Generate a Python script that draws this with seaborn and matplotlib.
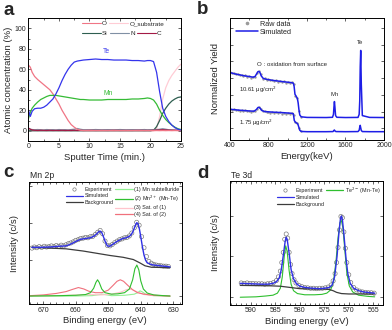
import numpy as np
import matplotlib
matplotlib.use("Agg")
import matplotlib.pyplot as plt
from matplotlib.lines import Line2D
from matplotlib.ticker import MultipleLocator
import seaborn as sns

# ---- panel a : depth profile ----
t_a = [0, 0.3, 0.6, 1, 1.5, 2, 2.5, 3, 3.5, 4, 4.5, 5, 5.5, 6, 6.5, 7, 7.5, 8, 8.5, 9,
       10, 11, 12, 13, 14, 15, 16, 17, 18, 19, 19.5, 20, 20.5, 21, 21.5, 22, 22.5, 23,
       23.5, 24, 24.5, 25]
te_a = [20, 14, 19, 21.5, 22, 22, 23, 25, 28, 31, 36, 42, 49, 55, 60, 64, 67, 68, 68.5, 69,
        69.5, 70, 69.5, 69.5, 69, 69, 69, 68.5, 68.5, 68, 68.5, 68.5, 67.5, 57, 38, 22, 14, 9,
        5.5, 3, 1.5, 0.8]
mn_a = [12, 18, 22, 25, 28, 30.5, 32, 33.5, 34.5, 34.5, 34.5, 34, 33.5, 33, 32.5, 32, 31.5, 31, 30.5, 30.5,
        30, 30, 30, 30.5, 30.5, 30.5, 30.5, 31, 31, 31.5, 32, 31.5, 30, 26, 20, 15, 11, 8,
        5.5, 3.5, 2, 1.2]
o_a = [64, 62, 57, 53, 50, 47.5, 45, 42.5, 40, 36, 31, 26, 20, 15, 10, 6, 3.5, 1.5, 0.5, 0.2,
       0.1, 0.2, 0.1, 0.2, 0.1, 0.2, 0.1, 0.2, 0.1, 0.2, 0.1, 0.2, 0.1, 0.2, 0.1, 0.2, 0.1, 0.2,
       0.1, 0.2, 0.1, 0.2]
osub_a = [0, 0, 0, 0, 0, 0, 0, 0, 0, 0, 0, 0, 0, 0, 0, 0, 0, 0, 0, 0,
          0, 0, 0, 0, 0, 0, 0, 0, 0, 0, 0, 0, 0, 2, 14, 31, 42, 49,
          54, 58, 62, 65]
si_a = [0, 0, 0, 0, 0, 0, 0, 0, 0, 0, 0, 0, 0, 0, 0, 0, 0, 0, 0, 0,
        0, 0, 0, 0, 0, 0, 0, 0, 0, 0, 0, 0, 0.5, 4, 10, 17, 22, 26,
        29, 31, 32.5, 33]
n_a = [2.5, 1.5, 1.2, 1, 1.2, 1, 0.8, 1.2, 0.9, 1.1, 0.8, 1.2, 0.9, 1.1, 0.8, 1.2, 1.5, 2.2, 1.5, 1,
       0.8, 1.2, 0.9, 1.1, 0.8, 1.2, 0.9, 1.1, 0.8, 1.2, 0.9, 1.1, 1, 1.2, 1.5, 2, 1.5, 1,
       0.9, 0.7, 0.6, 0.5]
c_a = [2.5, 1.5, 0.8, 0.5, 0.3, 0.5, 0.4, 0.3, 0.5, 0.3, 0.4, 0.3, 0.5, 0.3, 0.4, 0.3, 0.5, 0.3, 0.4, 0.3,
       0.5, 0.3, 0.4, 0.3, 0.5, 0.3, 0.4, 0.3, 0.5, 0.3, 0.4, 0.3, 0.5, 0.6, 0.8, 1, 0.8, 0.6,
       0.5, 0.5, 0.4, 0.5]

# ---- panel b : RBS spectra ----
e_up = [400, 450, 500, 550, 600, 640, 660, 675, 690, 700, 710, 725, 745, 780, 850, 950, 1040, 1058,
        1066, 1075, 1090, 1100, 1108, 1116, 1125, 1140, 1200, 1400, 1465, 1475, 1480, 1485, 1490,
        1497, 1510, 1600, 1730, 1742, 1748, 1753, 1758, 1764, 1775, 1850, 2000]
y_up = [5.53, 5.42, 5.34, 5.26, 5.2, 5.15, 5.2, 5.4, 5.6, 5.62, 5.55, 5.25, 5.05, 4.97, 4.88, 4.78, 4.7, 4.66,
        4.4, 3.75, 3.55, 3.4, 3.05, 2.5, 2.05, 1.9, 1.85, 1.84, 1.86, 2.1, 2.7, 3.15, 2.7,
        2.0, 1.86, 1.84, 1.85, 2.1, 3.2, 6.0, 7.34, 4.6, 2.0, 1.85, 1.84]
e_lo = [400, 450, 500, 550, 600, 650, 675, 690, 700, 712, 730, 760, 850, 950, 1040, 1058, 1068, 1080,
        1095, 1105, 1115, 1125, 1140, 1200, 1400, 1470, 1478, 1484, 1490, 1500, 1600, 1730, 1742,
        1748, 1753, 1758, 1764, 1775, 1850, 2000]
y_lo = [2.52, 2.48, 2.44, 2.41, 2.38, 2.36, 2.5, 2.66, 2.68, 2.62, 2.42, 2.33, 2.28, 2.24, 2.19, 2.15, 1.6, 1.45,
        1.38, 1.3, 1.05, 0.8, 0.7, 0.68, 0.68, 0.69, 0.76, 0.82, 0.75, 0.69, 0.68, 0.69, 0.8,
        1.05, 1.2, 1.0, 0.78, 0.69, 0.68, 0.68]
e_raw = [400, 420, 440, 460, 480, 500, 520, 540, 560, 580, 600, 620, 640, 660, 680, 700, 720, 740, 760,
         780, 800, 820, 840, 860, 880, 900, 920, 940, 960, 980, 1000, 1020, 1040, 1060, 1080, 1100,
         1120, 1140]
raw_up = [5.60, 5.45, 5.52, 5.38, 5.44, 5.30, 5.36, 5.22, 5.30, 5.18, 5.25, 5.12, 5.20, 5.14, 5.48, 5.66,
          5.38, 5.02, 5.08, 4.92, 5.02, 4.88, 4.95, 4.84, 4.92, 4.78, 4.86, 4.74, 4.82, 4.70, 4.77,
          4.66, 4.74, 4.55, 3.62, 3.45, 2.35, 1.92]
raw_lo = [2.58, 2.47, 2.53, 2.42, 2.49, 2.40, 2.46, 2.37, 2.43, 2.34, 2.41, 2.32, 2.39, 2.36, 2.58, 2.72,
          2.55, 2.34, 2.38, 2.27, 2.33, 2.24, 2.30, 2.22, 2.28, 2.19, 2.26, 2.17, 2.24, 2.15, 2.22,
          2.13, 2.20, 2.05, 1.48, 1.36, 0.98, 0.72]

# ---- panel c : Mn 2p XPS ----
e_c_sim = [673.5, 671, 668, 665, 663, 661.5, 660, 658.5, 657, 655.5, 654.3, 653.5, 653, 652.5, 652,
           651.5, 651, 650.3, 649.5, 648.5, 647.5, 646.5, 645.5, 644.5, 643.5, 643, 642.5, 642,
           641.5, 641.2, 640.8, 640.4, 640, 639.5, 639, 638.5, 638, 637, 636, 635, 634, 633, 632, 631]
c_sim = [1.33, 1.33, 1.34, 1.36, 1.37, 1.42, 1.49, 1.55, 1.57, 1.59, 1.64, 1.70, 1.75, 1.77, 1.73,
         1.62, 1.50, 1.37, 1.36, 1.42, 1.48, 1.53, 1.57, 1.59, 1.63, 1.67, 1.74, 1.85,
         1.96, 2.0, 1.96, 1.82, 1.62, 1.35, 1.12, 0.98, 0.91, 0.87, 0.85, 0.84, 0.83, 0.82, 0.81, 0.80]
e_c_exp = [673.5, 672.75, 672.0, 671.25, 670.5, 669.75, 669.0, 668.25, 667.5, 666.75, 666.0, 665.25,
           664.5, 663.75, 663.0, 662.25, 661.5, 660.75, 660.0, 659.25, 658.5, 657.75, 657.0, 656.25,
           655.5, 654.75, 654.0, 653.25, 652.5, 651.75, 651.0, 650.25, 649.5, 648.75, 648.0, 647.25,
           646.5, 645.75, 645.0, 644.25, 643.5, 642.75, 642.0, 641.25, 640.5, 639.75, 639.0, 638.25,
           637.5, 636.75, 636.0, 635.25, 634.5, 633.75, 633.0, 632.25, 631.5]
c_exp = [1.31, 1.34, 1.32, 1.35, 1.33, 1.36, 1.34, 1.35, 1.37, 1.35, 1.38, 1.36,
         1.39, 1.37, 1.40, 1.43, 1.45, 1.48, 1.52, 1.54, 1.57, 1.58, 1.60, 1.59,
         1.62, 1.63, 1.68, 1.74, 1.79, 1.70, 1.50, 1.38, 1.37, 1.41, 1.46, 1.50,
         1.54, 1.56, 1.59, 1.60, 1.64, 1.72, 1.86, 2.01, 1.93, 1.62, 1.32, 1.08,
         0.95, 0.90, 0.87, 0.85, 0.84, 0.83, 0.82, 0.82, 0.81]
e_c_bg = [673.5, 668, 663, 657.7, 653.6, 649.5, 645.4, 642.3, 640.3, 638.7, 636.7, 631]
c_bg = [1.33, 1.31, 1.29, 1.23, 1.17, 1.11, 1.06, 1.0, 0.91, 0.83, 0.79, 0.78]

e_c_p2 = [674, 665, 660, 657, 655.5, 654.5, 653.8, 653.3, 652.8, 652, 651, 649, 647, 645, 643.5,
          642.5, 641.8, 641.2, 640.6, 640, 639.2, 638, 636, 633, 631]
c_p2 = [0.01, 0.02, 0.03, 0.05, 0.1, 0.22, 0.38, 0.45, 0.38, 0.2, 0.1, 0.06, 0.07, 0.1, 0.2,
        0.45, 0.75, 0.85, 0.72, 0.42, 0.2, 0.09, 0.04, 0.02, 0.01]
e_c_p4 = [674, 670, 666, 663, 661, 659.2, 657.5, 656, 654, 652, 650, 648.5, 647.3, 646.3, 645.3,
          644, 642.5, 641, 639, 636, 631]
c_p4 = [0.02, 0.04, 0.08, 0.13, 0.19, 0.24, 0.2, 0.14, 0.1, 0.1, 0.17, 0.3, 0.41, 0.45, 0.41,
        0.3, 0.18, 0.1, 0.06, 0.03, 0.01]
e_c_p1 = [674, 660, 655, 652.5, 651.8, 651, 649, 645, 642, 641, 640.2, 639.5, 638.5, 636, 631]
c_p1 = [0.0, 0.01, 0.02, 0.05, 0.06, 0.05, 0.02, 0.03, 0.06, 0.1, 0.15, 0.12, 0.06, 0.02, 0.0]
e_c_p3 = [674, 665, 657, 655, 652, 649, 646, 644.5, 643.5, 642.5, 641, 639, 636, 631]
c_p3 = [0.01, 0.02, 0.05, 0.05, 0.04, 0.06, 0.12, 0.18, 0.2, 0.18, 0.12, 0.05, 0.02, 0.01]

# ---- panel d : Te 3d XPS ----
e_d_sim = [592.2, 590, 588, 586.5, 585.5, 584.8, 584.2, 583.8, 583.4, 583.0, 582.8, 582.6, 582.2,
           581.8, 581.3, 580.7, 580, 579, 577.5, 576, 575, 574, 573.4, 572.9, 572.4, 572.0, 571.7,
           571.5, 571.3, 571.0, 570.6, 570.2, 569.7, 569, 568, 567, 565.5, 564.7]
d_sim = [0.34, 0.33, 0.32, 0.32, 0.34, 0.38, 0.48, 0.68, 1.02, 1.38, 1.47, 1.42, 1.08,
         0.68, 0.45, 0.33, 0.27, 0.24, 0.22, 0.21, 0.22, 0.24, 0.3, 0.5, 1.0, 1.6, 1.93,
         1.99, 1.9, 1.55, 1.0, 0.58, 0.34, 0.22, 0.16, 0.13, 0.11, 0.1]
e_d_te = [592.2, 589, 587, 585.5, 584.6, 584.0, 583.6, 583.2, 582.9, 582.6, 582.2, 581.8, 581.3,
          580.5, 579, 577, 575.5, 574.5, 573.7, 573.1, 572.6, 572.2, 571.8, 571.5, 571.2, 570.8,
          570.4, 569.9, 569.2, 568, 566, 564.7]
d_te = [0.0, 0.01, 0.03, 0.05, 0.1, 0.22, 0.5, 1.0, 1.26, 1.12, 0.65, 0.32, 0.16,
        0.09, 0.06, 0.06, 0.07, 0.1, 0.18, 0.4, 0.9, 1.45, 1.83, 1.88, 1.7, 1.15,
        0.6, 0.28, 0.13, 0.05, 0.02, 0.01]
e_d_bg = [592.2, 586, 584, 582, 580, 577, 575, 574, 573.2, 572.5, 571.5, 570, 567, 564.7]
d_bg = [0.29, 0.28, 0.27, 0.24, 0.21, 0.2, 0.2, 0.19, 0.16, 0.12, 0.09, 0.08, 0.08, 0.08]
e_d_exp = [592.0, 591.4, 590.8, 590.2, 589.6, 589.0, 588.4, 587.8, 587.2, 586.6, 586.0, 585.4, 584.8,
           584.4, 584.0, 583.7, 583.4, 583.1, 582.8, 582.5, 582.2, 581.9, 581.6, 581.2, 580.8, 580.2,
           579.6, 579.0, 578.4, 577.8, 577.2, 576.6, 576.0, 575.4, 574.8, 574.2, 573.6, 573.2, 572.8,
           572.5, 572.2, 571.9, 571.6, 571.3, 571.0, 570.7, 570.4, 570.0, 569.6, 569.0, 568.4, 567.8,
           567.2, 566.6, 566.0, 565.4, 564.8]
d_exp = [0.35, 0.34, 0.35, 0.34, 0.34, 0.33, 0.33, 0.33, 0.32, 0.33, 0.34, 0.36, 0.41,
         0.5, 0.64, 0.85, 1.1, 1.42, 1.55, 1.45, 1.1, 0.8, 0.58, 0.43, 0.35, 0.29,
         0.26, 0.24, 0.23, 0.22, 0.22, 0.21, 0.22, 0.22, 0.23, 0.25, 0.3, 0.4, 0.58,
         0.85, 1.22, 1.65, 1.98, 1.95, 1.6, 1.2, 0.85, 0.55, 0.36, 0.24, 0.18, 0.15,
         0.13, 0.12, 0.11, 0.11, 0.1]

sns.set_theme(style="ticks")
plt.rcParams['font.family'] = ['Liberation Sans', 'DejaVu Sans']
plt.rcParams['axes.linewidth'] = 0.7

fig = plt.figure(figsize=(3.92, 3.30), dpi=100)
ax_a = fig.add_axes([0.0727, 0.5727, 0.389, 0.3727])
ax_b = fig.add_axes([0.5867, 0.5758, 0.3929, 0.3697])
ax_c = fig.add_axes([0.0740, 0.0773, 0.3895, 0.3697])
ax_d = fig.add_axes([0.5867, 0.0758, 0.3903, 0.3758])

TICK_FS = 5
LAB_FS = 6.8


def style_axes(ax):
    ax.tick_params(which='both', direction='in', top=True, right=True,
                   labelsize=TICK_FS, width=0.5, pad=1.5)
    ax.tick_params(which='major', length=2.2)
    ax.tick_params(which='minor', length=1.2)
    for s in ax.spines.values():
        s.set_linewidth(0.7)
        s.set_color('black')


def line(ax, x, y, color, lw=0.9):
    sns.lineplot(x=x, y=y, ax=ax, color=color, linewidth=lw, estimator=None,
                 sort=False, legend=False)


# ---- a ----
col_a = {'O': '#f07585', 'O_substrate': '#ffccd5', 'Si': '#2e5e50',
         'N': '#8090a4', 'C': '#a31a45', 'Te': '#3434ec', 'Mn': '#35bb35'}
line(ax_a, t_a, osub_a, col_a['O_substrate'])
line(ax_a, t_a, si_a, col_a['Si'])
line(ax_a, t_a, n_a, col_a['N'])
line(ax_a, t_a, c_a, col_a['C'])
line(ax_a, t_a, o_a, col_a['O'])
line(ax_a, t_a, mn_a, col_a['Mn'])
line(ax_a, t_a, te_a, col_a['Te'])
ax_a.set_xlim(0, 25)
ax_a.set_ylim(-10, 110)
ax_a.xaxis.set_major_locator(MultipleLocator(5))
ax_a.xaxis.set_minor_locator(MultipleLocator(2.5))
ax_a.set_yticks([0, 20, 40, 60, 80, 100])
ax_a.yaxis.set_minor_locator(MultipleLocator(10))
ax_a.set_xlabel('Sputter Time (min.)', fontsize=LAB_FS, labelpad=2)
ax_a.set_ylabel('Atomic concentration (%)', fontsize=LAB_FS, labelpad=1)
ax_a.text(12.8, 77, 'Te', color=col_a['Te'], fontsize=4.8, ha='center', va='center')
ax_a.text(13, 36, 'Mn', color=col_a['Mn'], fontsize=4.8, ha='center', va='center')
h1 = [Line2D([], [], color=col_a[k], lw=0.8) for k in ['O', 'O_substrate']]
leg1 = ax_a.legend(h1, ['O', 'O_substrate'], ncol=2, loc='upper left', bbox_to_anchor=(0.34, 0.99),
                   fontsize=4.6, frameon=False, handlelength=3.0, handletextpad=0.2,
                   columnspacing=0.3, borderpad=0.2, borderaxespad=0)
ax_a.add_artist(leg1)
h2 = [Line2D([], [], color=col_a[k], lw=0.8) for k in ['Si', 'N', 'C']]
ax_a.legend(h2, ['Si', 'N', 'C'], ncol=3, loc='upper left', bbox_to_anchor=(0.34, 0.905),
            fontsize=4.6, frameon=False, handlelength=3.0, handletextpad=0.2,
            columnspacing=0.3, borderpad=0.2, borderaxespad=0)
style_axes(ax_a)

# ---- b ----
sns.scatterplot(x=e_raw, y=raw_up, ax=ax_b, color='#9a9a9a', s=3, linewidth=0, legend=False)
sns.scatterplot(x=e_raw, y=raw_lo, ax=ax_b, color='#9a9a9a', s=3, linewidth=0, legend=False)
line(ax_b, e_up, y_up, '#1e1ee6', lw=1.1)
line(ax_b, e_lo, y_lo, '#1e1ee6', lw=1.1)
ax_b.set_xlim(400, 2000)
ax_b.set_ylim(0, 10)
ax_b.xaxis.set_major_locator(MultipleLocator(400))
ax_b.xaxis.set_minor_locator(MultipleLocator(200))
ax_b.set_yticks([0.96, 2.33, 3.7, 5.07, 6.44, 7.81, 9.18])
ax_b.set_yticklabels([])
ax_b.set_xlabel('Energy(keV)', fontsize=LAB_FS, labelpad=2)
ax_b.set_ylabel('Normalized Yield', fontsize=LAB_FS, labelpad=6)
ax_b.text(680, 6.2, 'O : oxidation from surface', fontsize=4.4, ha='left', va='center')
ax_b.text(490, 4.1, '10.61 μg/cm$^2$', fontsize=4.3, ha='left', va='center')
ax_b.text(490, 1.37, '1.75 μg/cm$^2$', fontsize=4.3, ha='left', va='center')
ax_b.text(1485, 3.75, 'Mn', fontsize=4.3, ha='center', va='center')
ax_b.text(1755, 7.95, 'Te', fontsize=4.3, ha='center', va='center')
hb = [Line2D([], [], color='#9a9a9a', marker='o', ms=1.6, lw=0),
      Line2D([], [], color='#1e1ee6', lw=1.1)]
ax_b.legend(hb, ['Raw data', 'Simulated'], loc='upper left', bbox_to_anchor=(0.03, 0.99),
            fontsize=5.2, frameon=False, handlelength=3.0, handletextpad=0.3,
            labelspacing=0.15, borderpad=0.2, borderaxespad=0)
style_axes(ax_b)

# ---- c ----
cc = {'sim': '#3030e6', 'bg': '#3c3c3c', 'p1': '#94f094', 'p2': '#2fbf2f',
      'p3': '#ffc4cc', 'p4': '#f0707c', 'exp': '#707070'}
line(ax_c, e_c_p1, c_p1, cc['p1'], lw=0.8)
line(ax_c, e_c_p3, c_p3, cc['p3'], lw=0.8)
line(ax_c, e_c_p4, c_p4, cc['p4'], lw=0.8)
line(ax_c, e_c_p2, c_p2, cc['p2'], lw=0.8)
line(ax_c, e_c_bg, c_bg, cc['bg'], lw=0.9)
sns.scatterplot(x=e_c_exp, y=c_exp, ax=ax_c, marker='o', s=9, facecolors='none',
                edgecolor=cc['exp'], linewidth=0.45, legend=False)
line(ax_c, e_c_sim, c_sim, cc['sim'], lw=1.0)
ax_c.set_xlim(674.4, 627.4)
ax_c.set_ylim(-0.22, 3.09)
ax_c.xaxis.set_major_locator(MultipleLocator(10))
ax_c.xaxis.set_minor_locator(MultipleLocator(2))
ax_c.set_yticks([0, 1, 2, 3])
ax_c.set_yticklabels([])
ax_c.set_xlabel('Binding energy (eV)', fontsize=LAB_FS, labelpad=2)
ax_c.set_ylabel('Intensity (c/s)', fontsize=LAB_FS, labelpad=6)
hc = [Line2D([], [], color=cc['exp'], marker='o', mfc='none', ms=2.4, mew=0.45, lw=0),
      Line2D([], [], color=cc['sim'], lw=0.9),
      Line2D([], [], color=cc['bg'], lw=0.9),
      Line2D([], [], lw=0, alpha=0),
      Line2D([], [], color=cc['p1'], lw=0.9),
      Line2D([], [], color=cc['p2'], lw=0.9),
      Line2D([], [], color=cc['p3'], lw=0.9),
      Line2D([], [], color=cc['p4'], lw=0.9)]
lc = ['Experiment', 'Simulated', 'Background', '',
      '(1) Mn subtelluride', '(2) Mn$^{2+}$ (Mn-Te)', '(3) Sat. of (1)', '(4) Sat. of (2)']
ax_c.legend(hc, lc, ncol=2, loc='upper right', bbox_to_anchor=(0.99, 0.97), fontsize=3.9,
            frameon=False, handlelength=3.2, handletextpad=0.3, columnspacing=0.3,
            labelspacing=0.32, borderpad=0.1, borderaxespad=0)
style_axes(ax_c)

# ---- d ----
line(ax_d, e_d_te, d_te, cc['p2'], lw=0.8)
line(ax_d, e_d_bg, d_bg, cc['bg'], lw=0.9)
sns.scatterplot(x=e_d_exp, y=d_exp, ax=ax_d, marker='o', s=9, facecolors='none',
                edgecolor=cc['exp'], linewidth=0.45, legend=False)
line(ax_d, e_d_sim, d_sim, cc['sim'], lw=1.0)
ax_d.set_xlim(594.3, 563.0)
ax_d.set_ylim(-0.19, 2.85)
ax_d.xaxis.set_major_locator(MultipleLocator(5))
ax_d.xaxis.set_minor_locator(MultipleLocator(1))
ax_d.set_yticks([0, 1, 2])
ax_d.set_yticklabels([])
ax_d.set_xlabel('Binding energy (eV)', fontsize=LAB_FS, labelpad=2)
ax_d.set_ylabel('Intensity (c/s)', fontsize=LAB_FS, labelpad=6)
hd = [hc[0], hc[1], hc[2], Line2D([], [], color=cc['p2'], lw=0.9),
      Line2D([], [], lw=0, alpha=0), Line2D([], [], lw=0, alpha=0)]
ld = ['Experiment', 'Simulated', 'Background', 'Te$^{2-}$ (Mn-Te)', '', '']
ax_d.legend(hd, ld, ncol=2, loc='upper right', bbox_to_anchor=(0.99, 0.97), fontsize=3.9,
            frameon=False, handlelength=3.2, handletextpad=0.3, columnspacing=0.3,
            labelspacing=0.32, borderpad=0.1, borderaxespad=0)
style_axes(ax_d)

# panel letters and titles
for lab, x, y in [('a', 0.008, 0.968), ('b', 0.503, 0.970), ('c', 0.008, 0.476), ('d', 0.503, 0.474)]:
    fig.text(x, y, lab, fontsize=13.5, fontweight='bold', va='center', ha='left')
fig.text(30 / 392, 1 - 175 / 330, 'Mn 2p', fontsize=6.2, va='center', ha='left')
fig.text(231 / 392, 1 - 176 / 330, 'Te 3d', fontsize=6.2, va='center', ha='left')

fig.savefig('out.png', dpi=100)
